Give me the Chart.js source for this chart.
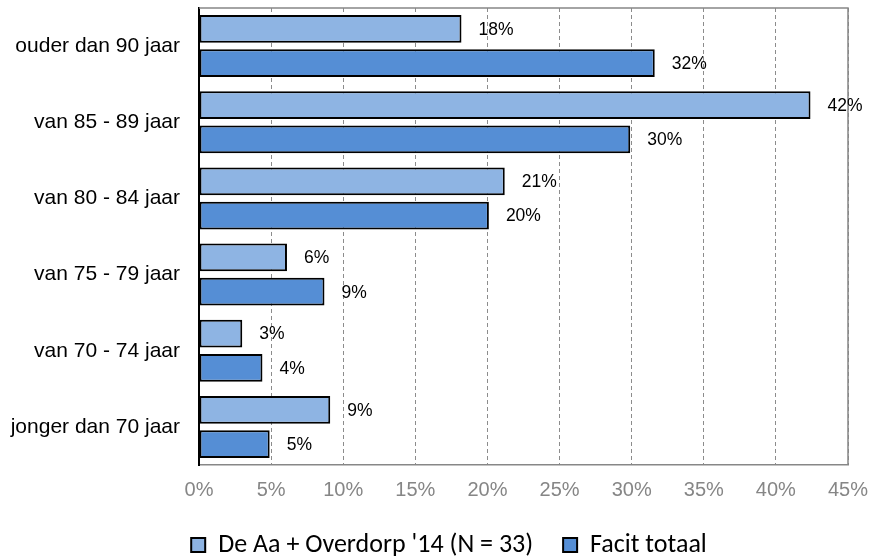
<!DOCTYPE html>
<html>
<head>
<meta charset="utf-8">
<script src="https://cdn.jsdelivr.net/npm/chart.js@4.4.1/dist/chart.umd.min.js"></script>
<style>
  html, body { margin: 0; padding: 0; background: #fff; }
  #wrap { width: 869px; height: 558px; }
</style>
</head>
<body>
<div id="wrap"><canvas id="ageChart"></canvas></div>
<script>
// Age groups, from top to bottom
const ageGroups = [
    'ouder dan 90 jaar',
    'van 85 - 89 jaar',
    'van 80 - 84 jaar',
    'van 75 - 79 jaar',
    'van 70 - 74 jaar',
    'jonger dan 70 jaar'
];

// Share of each age group (%)
const deAaOverdorp = [18.2, 42.4, 21.2, 6.1, 3.0, 9.1];
const facitTotaal = [31.6, 29.9, 20.1, 8.7, 4.4, 4.9];

const seriesNames = ["De Aa + Overdorp '14 (N = 33)", 'Facit totaal'];

// x axis runs 0% - 45% in steps of 5
const xMax = 45;
const xStep = 5;

// Grey frame on top and right of the plot area
const plotFrame = {
    id: 'plotFrame',
    beforeDatasetsDraw(chart) {
        const { ctx, chartArea: a } = chart;
        ctx.save();
        ctx.strokeStyle = '#878787';
        ctx.lineWidth = 1.5;
        ctx.beginPath();
        ctx.moveTo(a.left, a.top);
        ctx.lineTo(a.right, a.top);
        ctx.lineTo(a.right, a.bottom);
        ctx.stroke();
        ctx.restore();
    }
};

// Percentage text to the right of every bar
const barValueLabels = {
    id: 'barValueLabels',
    afterDatasetsDraw(chart) {
        const ctx = chart.ctx;
        ctx.save();
        ctx.font = '17.5px "Liberation Sans", Arial, sans-serif';
        ctx.fillStyle = '#000';
        ctx.textAlign = 'left';
        ctx.textBaseline = 'middle';
        chart.data.datasets.forEach((ds, i) => {
            chart.getDatasetMeta(i).data.forEach((bar, j) => {
                ctx.fillText(Math.round(ds.data[j]) + '%', bar.x + 17, bar.y + 1);
            });
        });
        ctx.restore();
    }
};

// Legend sits a bit right of the canvas centre
const legendShift = {
    id: 'legendShift',
    afterLayout(chart) {
        chart.legend.left += 25;
        chart.legend.right += 25;
    }
};

const ctx = document.getElementById('ageChart').getContext('2d');
new Chart(ctx, {
    type: 'bar',
    data: {
        labels: ageGroups,
        datasets: [{
            label: seriesNames[0],
            data: deAaOverdorp,
            backgroundColor: '#8eb4e3',
            borderColor: '#000',
            borderWidth: 2,
            borderSkipped: false
        }, {
            label: seriesNames[1],
            data: facitTotaal,
            backgroundColor: '#558ed5',
            borderColor: '#000',
            borderWidth: 2,
            borderSkipped: false
        }]
    },
    options: {
        indexAxis: 'y',
        responsive: true,
        maintainAspectRatio: false,
        animation: false,
        categoryPercentage: 0.9,
        barPercentage: 0.81,
        layout: { padding: { top: 8, right: 21, left: 0, bottom: -10 } },
        scales: {
            x: {
                min: 0,
                max: xMax,
                ticks: {
                    stepSize: xStep,
                    padding: 13,
                    color: '#868686',
                    font: { family: '"Liberation Sans", Arial, sans-serif', size: 20 },
                    callback: v => v + '%'
                },
                grid: {
                    color: '#8c8c8c',
                    lineWidth: 1,
                    drawTicks: false
                },
                border: { display: true, color: '#878787', width: 1.5, dash: [4, 3] },
                afterFit(scale) {
                    scale.height = 37;
                    scale.paddingLeft = 0;
                    scale.paddingRight = 0;
                }
            },
            y: {
                ticks: {
                    padding: 19,
                    color: '#000',
                    font: { family: '"Liberation Sans", Arial, sans-serif', size: 21 }
                },
                grid: { display: false, drawTicks: false },
                border: { display: true, color: '#000', width: 2 },
                afterFit(scale) {
                    scale.width = 199;
                    scale.paddingTop = 0;
                    scale.paddingBottom = 0;
                }
            }
        },
        plugins: {
            legend: {
                position: 'bottom',
                labels: {
                    boxWidth: 14,
                    boxHeight: 14,
                    padding: 30,
                    color: '#000',
                    font: { family: 'Carlito, Calibri, Lato, sans-serif', size: 26 }
                }
            },
            tooltip: { enabled: false }
        }
    },
    plugins: [plotFrame, barValueLabels, legendShift]
});
</script>
</body>
</html>
